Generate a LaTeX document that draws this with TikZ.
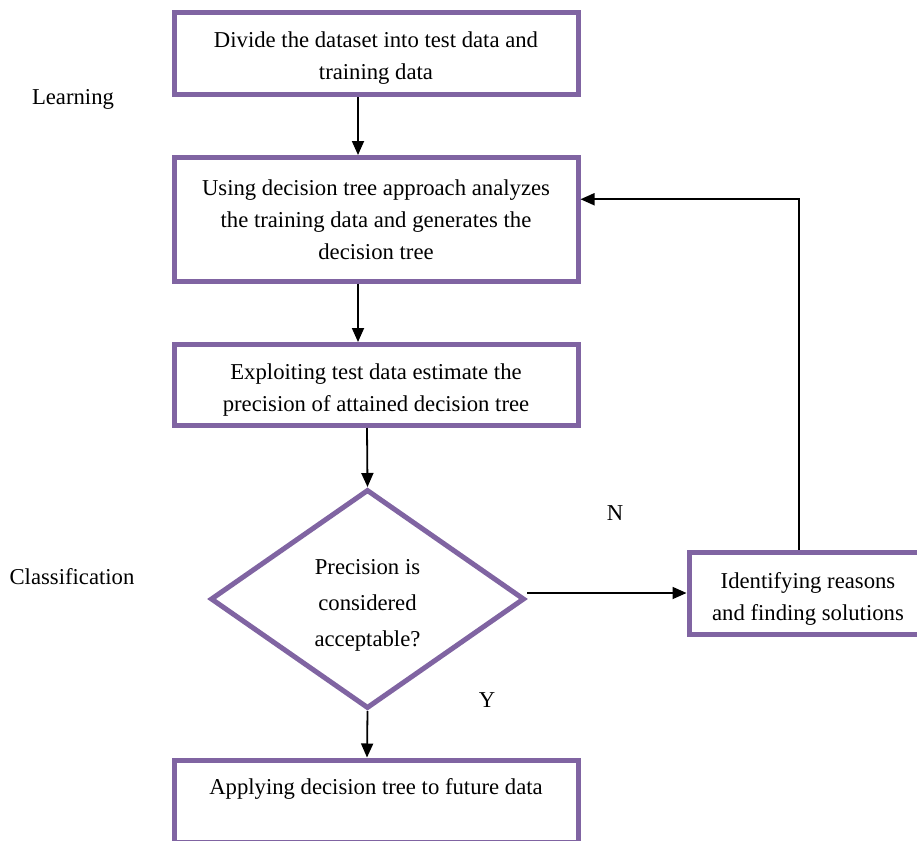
\documentclass[tikz,border=0pt]{standalone}
\usepackage{fontspec}
\setmainfont{Liberation Serif}
\usetikzlibrary{shapes.geometric,arrows.meta}

\definecolor{boxpurple}{RGB}{128,100,162}

% strut on the first line, lowers the text a little
\newcommand{\firstline}[1]{\rule{0pt}{#1}}

\tikzset{
  stepbox/.style={rectangle, draw=boxpurple, line width=2.5pt, fill=white,
    minimum width=202pt, align=center, inner sep=0pt},
  decision/.style={diamond, draw=boxpurple, line width=2.5pt, fill=white,
    minimum width=157pt, minimum height=109.5pt, aspect=1.43, align=center,
    inner sep=0pt, font=\fontsize{11.35}{18}\selectfont},
  flow/.style={draw, line width=0.9pt, -{Triangle[length=7pt,width=6pt]}}
}

\begin{document}
\begin{tikzpicture}[x=0.5pt, y=-0.5pt, font=\fontsize{11.35}{16}\selectfont]

      \useasboundingbox (0,0) rectangle (917,841);

      \begin{scope}[every node/.style={stepbox}]
        \node[minimum height=41.25pt] (1) at (376,53.25)
          {\firstline{13pt}Divide the dataset into test data and\\training data};
        \node[minimum height=61.75pt] (2) at (376,219.25)
          {Using decision tree approach analyzes\\the training data and generates the\\decision tree};
        \node[minimum height=40.5pt] (3) at (376,385)
          {\firstline{13pt}Exploiting test data estimate the\\precision of attained decision tree};
        \node[minimum width=119pt, minimum height=41pt] (5) at (808,593)
          {\firstline{13.5pt}Identifying reasons\\and finding solutions};
        \node[minimum height=41pt] (6) at (376,801)
          {\firstline{9pt}Applying decision tree to future data\\\mbox{}};
      \end{scope}

      \node[decision] (4) at (367.5,599)
        {\firstline{14pt}Precision is\\considered\\acceptable?};

      \node (learn) at (73,99) {Learning};
      \node (class) at (72,577) {Classification};
      \node (no)    at (615,513) {N};
      \node (yes)   at (487,700) {Y};

      \begin{scope}[every path/.style={flow}]
        \path ([xshift=-9pt]1.south) -- ([xshift=-9pt]2.north);
        \path ([xshift=-9pt]2.south) -- ([xshift=-9pt]3.north);
        \path ([xshift=-4.5pt]3.south) -- (4.north);
        \path (5.west -| 4.east) -- (5.west);
        \path (4.south) -- ([xshift=-4.5pt]6.north);
        \path ([xshift=-4.5pt]5.north) |- ([yshift=10pt]2.east);
      \end{scope}

    \end{tikzpicture}
\end{document}
